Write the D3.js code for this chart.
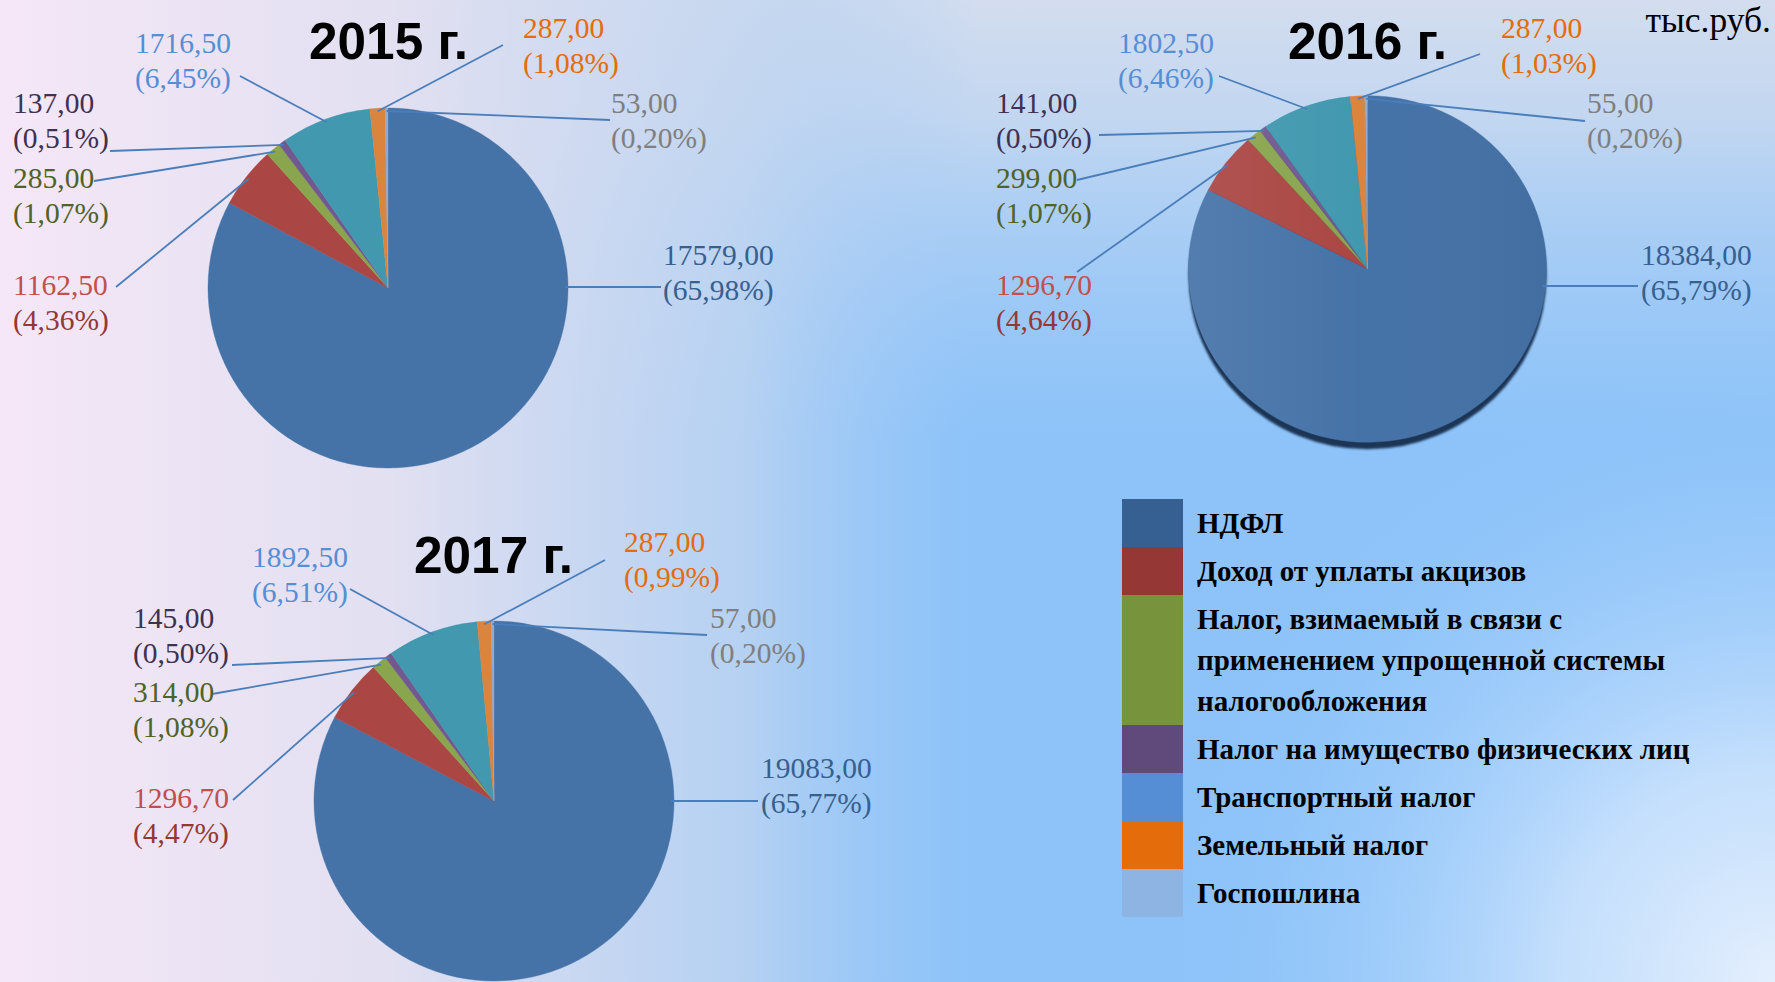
<!DOCTYPE html>
<html><head><meta charset="utf-8">
<script src="https://cdn.jsdelivr.net/npm/d3@7"></script>
<style>html,body{margin:0;padding:0;overflow:hidden;background:#fff}svg{display:block}</style>
</head><body><svg id="c" width="1775" height="982"></svg>
<script>
// ---------------- DATA ----------------
const categories = [
  "НДФЛ",
  "Доход от уплаты акцизов",
  "Налог, взимаемый в связи с применением упрощенной системы налогообложения",
  "Налог на имущество физических лиц",
  "Транспортный налог",
  "Земельный налог",
  "Госпошлина"
];
const years = ["2015 г.", "2016 г.", "2017 г."];
const values2015 = [17579.00, 1162.50, 285.00, 137.00, 1716.50, 287.00, 53.00];
const values2016 = [18384.00, 1296.70, 299.00, 141.00, 1802.50, 287.00, 55.00];
const values2017 = [19083.00, 1296.70, 314.00, 145.00, 1892.50, 287.00, 57.00];
const percents2015 = [65.98, 4.36, 1.07, 0.51, 6.45, 1.08, 0.20];
const percents2016 = [65.79, 4.64, 1.07, 0.50, 6.46, 1.03, 0.20];
const percents2017 = [65.77, 4.47, 1.08, 0.50, 6.51, 0.99, 0.20];
const unitLabel = "тыс.руб.";
const legendLines = [
  ["НДФЛ"],
  ["Доход от уплаты акцизов"],
  ["Налог, взимаемый в связи с", "применением упрощенной системы", "налогообложения"],
  ["Налог на имущество физических лиц"],
  ["Транспортный налог"],
  ["Земельный налог"],
  ["Госпошлина"]
];

// ---------------- STYLE ----------------
const sliceColors  = ["#4572A7", "#AA4643", "#89A54E", "#71588F", "#4198AF", "#DB843D", "#93A9CF"];
const legendColors = ["#376092", "#953735", "#77933C", "#604A7B", "#558ED5", "#E46C0A", "#8EB4E3"];
const valueColors  = ["#37608F", "#C0504D", "#4F6228", "#3F3151", "#558ED5", "#E46C0A", "#7F7F7F"];
const pctColors    = ["#37608F", "#953735", "#4F6228", "#3F3151", "#558ED5", "#E46C0A", "#7F7F7F"];
const leaderColor = "#4A7EBB";

// ---------------- LAYOUT ----------------
// label layout: [textX, firstBaselineY, leaderEndX, leaderEndY]
const charts = [
  { title: years[0], values: values2015, pct: percents2015, cx: 388, cy: 288, r: 180, sy: 1, tx: 309, ty: 59, rim: false,
    labels: [[663,265,661,287],[13,295,116,287],[13,188,94,181],[13,113,110,151],[135,53,240,76],[523,37.5,503,45],[611,113,610,120]] },
  { title: years[1], values: values2016, pct: percents2016, cx: 1367.5, cy: 269, r: 179, sy: 0.968, tx: 1288, ty: 59, rim: true,
    labels: [[1641,265,1638,286],[996,295,1077,272],[996,188,1077,180],[996,113,1099,135],[1118,53,1219,76],[1501,37.5,1480,54],[1587,113,1585,121]] },
  { title: years[2], values: values2017, pct: percents2017, cx: 494, cy: 801, r: 180, sy: 1, tx: 414, ty: 573, rim: false,
    labels: [[761,778,758,801],[133,808,233,800],[133,702,212,694],[133,628,232,665],[252,567,350,589],[624,552,605,560],[710,628,707,635]] }
];

const fmt = v => d3.format(".2f")(v).replace(".", ",");
const svg = d3.select("#c");
const W = 1775, H = 982;

// ---------------- BACKGROUND ----------------
const defs = svg.append("defs");
const gx = defs.append("linearGradient").attr("id", "bgx").attr("x1", 0).attr("y1", 0).attr("x2", 1).attr("y2", 0);
[[0, "#F5E7F7", 1], [0.22, "#E2E0F1", 1], [0.42, "#C3D6F0", 0.75], [0.55, "#A6CBF4", 0.0]].forEach(s =>
  gx.append("stop").attr("offset", s[0]).attr("stop-color", s[1]).attr("stop-opacity", s[2]));
const gy = defs.append("linearGradient").attr("id", "bgy").attr("x1", 0).attr("y1", 0).attr("x2", 0).attr("y2", 1);
[[0, "#D3DDEE", 1], [0.12, "#CCDAEF", 0.85], [0.45, "#A9CDF4", 0.0]].forEach(s =>
  gy.append("stop").attr("offset", s[0]).attr("stop-color", s[1]).attr("stop-opacity", s[2]));
const gr = defs.append("radialGradient").attr("id", "bgr").attr("gradientUnits", "userSpaceOnUse")
  .attr("cx", 1775).attr("cy", 982).attr("r", 620);
[[0, "#E4EFFD", 1], [0.35, "#D2E6FD", 0.8], [1, "#8EC4FA", 0]].forEach(s =>
  gr.append("stop").attr("offset", s[0]).attr("stop-color", s[1]).attr("stop-opacity", s[2]));
const gShade = defs.append("linearGradient").attr("id", "shade").attr("x1", 0).attr("y1", 0).attr("x2", 1).attr("y2", 0);
[[0, "#ffffff", 0.08], [0.5, "#ffffff", 0.0], [1, "#000000", 0.04]].forEach(s =>
  gShade.append("stop").attr("offset", s[0]).attr("stop-color", s[1]).attr("stop-opacity", s[2]));
defs.append("filter").attr("id", "blur").append("feGaussianBlur").attr("stdDeviation", 1.2);

svg.append("rect").attr("width", W).attr("height", H).attr("fill", "#8DC3F9");
svg.append("rect").attr("width", W).attr("height", H).attr("fill", "url(#bgr)");
svg.append("rect").attr("width", W).attr("height", H).attr("fill", "url(#bgy)");
svg.append("rect").attr("width", W).attr("height", H).attr("fill", "url(#bgx)");

// ---------------- PIES ----------------
const pie = d3.pie().sort(null).value(d => d).startAngle(0).endAngle(2 * Math.PI);
const TAU = 2 * Math.PI;

charts.forEach(c => {
  const arcs = pie(c.values);
  const arc = d3.arc().innerRadius(0).outerRadius(c.r);
  const g = svg.append("g");
  if (c.rim) {
    g.append("ellipse").attr("cx", c.cx).attr("cy", c.cy + 7).attr("rx", c.r).attr("ry", c.r * c.sy)
      .attr("fill", "#1E3555").attr("filter", "url(#blur)");
  }
  const pg = g.append("g").attr("transform", `translate(${c.cx},${c.cy}) scale(1,${c.sy})`);
  pg.selectAll("path").data(arcs).join("path")
    .attr("d", arc).attr("fill", (d, i) => sliceColors[i])
    .attr("stroke", (d, i) => sliceColors[i]).attr("stroke-width", 0.4);
  if (c.rim) {
    pg.append("circle").attr("r", c.r).attr("fill", "url(#shade)");
  }

  // leader lines
  const lg = svg.append("g");
  arcs.forEach((a, i) => {
    const L = c.labels[i];
    let dir = Math.atan2(L[2] - c.cx, -(L[3] - c.cy) / c.sy);
    if (dir < 0) dir += TAU;
    const rr = c.r - 3;
    let x0, y0;
    const big = (a.endAngle - a.startAngle) > Math.PI;
    if (big && dir >= a.startAngle && dir <= a.endAngle) {
      // horizontal leader to the edge of the large slice
      y0 = L[3];
      const t = (y0 - c.cy) / (rr * c.sy);
      x0 = c.cx + Math.sign(L[2] - c.cx) * Math.sqrt(Math.max(0, 1 - t * t)) * rr;
    } else {
      const ang = (a.startAngle + a.endAngle) / 2;
      x0 = c.cx + Math.sin(ang) * rr;
      y0 = c.cy - Math.cos(ang) * rr * c.sy;
    }
    lg.append("line").attr("x1", x0).attr("y1", y0).attr("x2", L[2]).attr("y2", L[3])
      .attr("stroke", leaderColor).attr("stroke-width", 1.8);
  });

  // labels
  const tg = svg.append("g").attr("font-family", "'Liberation Serif','Times New Roman',serif").attr("font-size", 29.5);
  c.values.forEach((v, i) => {
    const L = c.labels[i];
    tg.append("text").attr("x", L[0]).attr("y", L[1]).attr("fill", valueColors[i]).text(fmt(v));
    tg.append("text").attr("x", L[0]).attr("y", L[1] + 35).attr("fill", pctColors[i]).text("(" + fmt(c.pct[i]) + "%)");
  });

  // title
  svg.append("text").attr("x", c.tx).attr("y", c.ty)
    .attr("font-family", "'Liberation Sans',Arial,sans-serif").attr("font-weight", "bold")
    .attr("font-size", 52).attr("textLength", 159).attr("lengthAdjust", "spacingAndGlyphs")
    .attr("fill", "#000").text(c.title);
});

// unit label
svg.append("text").attr("x", 1771).attr("y", 32).attr("text-anchor", "end")
  .attr("font-family", "'Liberation Serif','Times New Roman',serif").attr("font-size", 35.5)
  .attr("fill", "#000").text(unitLabel);

// ---------------- LEGEND ----------------
const lgX = 1122, lgW = 61, lgTop = 499, lineH = 41, pad = 7, textX = 1197;
let yy = lgTop;
const leg = svg.append("g").attr("font-family", "'Liberation Serif','Times New Roman',serif")
  .attr("font-weight", "bold").attr("font-size", 29);
categories.forEach((cat, i) => {
  const lines = legendLines[i];
  const h = lines.length * lineH + pad;
  leg.append("rect").attr("x", lgX).attr("y", yy).attr("width", lgW).attr("height", h).attr("fill", legendColors[i]);
  lines.forEach((ln, j) => {
    leg.append("text").attr("x", textX).attr("y", yy + 34 + j * lineH).attr("fill", "#000").text(ln);
  });
  yy += h;
});
</script></body></html>
